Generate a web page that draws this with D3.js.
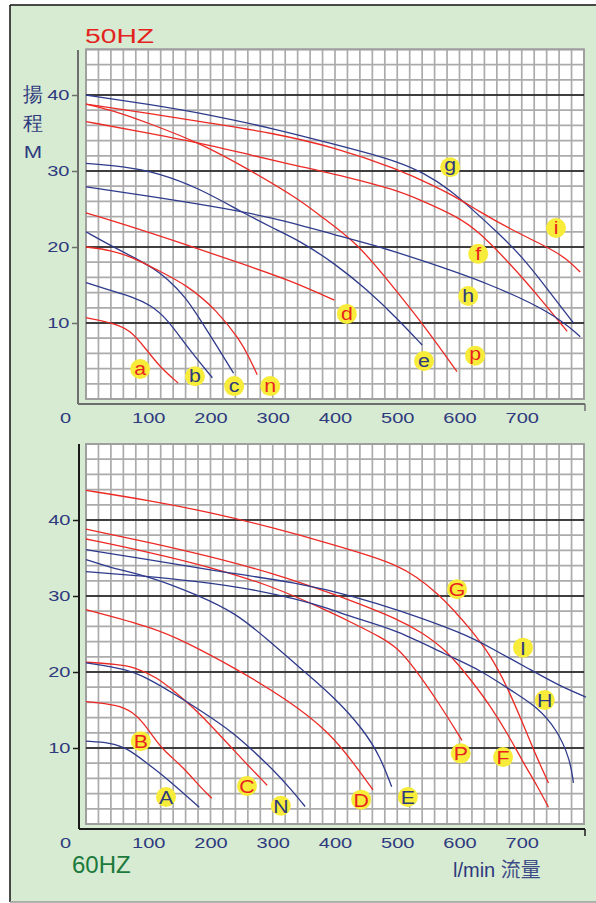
<!DOCTYPE html>
<html>
<head>
<meta charset="utf-8">
<script src="https://cdn.jsdelivr.net/npm/d3@7"></script>
<style>
  html, body { margin: 0; padding: 0; background: #fff; }
  svg { display: block; }
  text { font-family: "Liberation Sans", Arial, sans-serif; }
</style>
</head>
<body>
<svg id="chart" width="596" height="903"></svg>
<script>
// Axis ticks
const flowTicks = [0, 100, 200, 300, 400, 500, 600, 700];
const headTicks = [10, 20, 30, 40];

// 50 Hz performance curves: [flow l/min, head m]
const c50a = [[0,10.7],[44,10],[71,9.1],[98,6.4],[119,4.2],[148,2.1]];
const c50b = [[0,15.3],[39,14.3],[76,13.4],[103,12.4],[130,10.6],[162,6.9],[203,2.8]];
const c50c = [[0,22],[44,20],[80,18.5],[108,17.2],[130,15.9],[160,13.4],[183,10.5],[210,7],[237,3.4]];
const c50n = [[0,20],[40,19.6],[76,18.6],[114,17],[162,15],[210,11.7],[247,7.8],[262,5.5],[275,3.2]];
const c50d = [[0,24.5],[80,22.5],[172,20],[250,17.8],[328,15.6],[399,13]];
const c50e = [[0,31],[60,30.6],[114,29.8],[183,27.7],[250,24.6],[300,22.5],[344,20.8],[400,17.8],[450,14.5],[500,10.6],[540,7.1]];
const c50p = [[0,38.8],[50,37.8],[100,36.3],[183,33.7],[264,30.1],[344,26.2],[381,23.8],[436,20.5],[489,15.2],[542,9.8],[596,3.6]];
const c50f = [[0,36.5],[100,35],[200,33.4],[264,32.1],[344,30.6],[420,29.2],[494,27.6],[537,26.2],[596,24],[629,22.2],[686,17.4],[730,13.2],[773,8.9]];
const c50h = [[0,27.9],[100,26.7],[200,25.4],[300,23.9],[400,21.6],[477,19.9],[537,18.3],[645,15.3],[751,11.3],[794,8.2]];
const c50g = [[0,40],[100,38.8],[200,37.4],[300,35.6],[400,33.5],[460,32.2],[500,31.2],[542,29.8],[585,27.5],[620,25],[660,22],[700,18.8],[740,14.6],[783,10]];
const c50i = [[0,38.8],[100,37.6],[200,36.3],[300,35],[400,33.1],[500,30.3],[560,28],[600,26.3],[629,24.8],[680,22.4],[741,20],[770,18.6],[794,16.7]];

// 60 Hz performance curves: [flow l/min, head m]
const c60A = [[0,10.9],[39,10.7],[66,10],[98,8],[130,6],[182,2.2]];
const c60B = [[0,16.1],[50,15.7],[76,14.7],[92,13.3],[108,11.5],[124,9.7],[156,7.5],[183,4.9],[202,3.4]];
const c60C = [[0,21.3],[50,21],[76,20.7],[114,19.3],[140,17.6],[183,14.6],[237,9.7],[291,5.1]];
const c60N = [[0,21.2],[66,20.4],[103,19],[140,17.2],[183,15],[237,12],[270,9.5],[300,7.2],[330,4.5],[352,2.3]];
const c60D = [[0,28.2],[106,25.9],[159,24],[240,20.5],[325,16.3],[392,12],[430,8],[461,4.5]];
const c60E = [[0,34.8],[40,33.7],[106,32.5],[180,30.1],[240,27.8],[293,24.2],[347,20.3],[400,16.6],[446,12.4],[473,8.8],[491,4.9]];
const c60P = [[0,37.5],[100,35.8],[200,33.8],[300,31.3],[392,27.9],[432,26.3],[473,24.6],[500,23.2],[526,20.7],[564,16.3],[604,11]];
const c60F = [[0,38.8],[100,37.1],[200,35.2],[300,33],[392,30.4],[432,29.2],[500,27],[540,25.2],[580,22.8],[620,18.8],[650,15.5],[680,11.5],[703,8],[725,5],[743,2.2]];
const c60G = [[0,43.9],[100,42.6],[200,41],[300,39],[400,36.7],[460,35.2],[500,34],[530,32.6],[564,30.4],[590,28.2],[617,25.7],[650,22.2],[677,18],[703,13],[725,8.6],[743,5.4]];
const c60H = [[0,33.2],[60,32.8],[150,32.2],[250,31.2],[344,29.5],[392,28.3],[432,27.1],[500,25.5],[580,22.2],[633,20.3],[686,17.4],[725,15.4],[757,12.4],[778,8.4],[783,5.4]];
const c60I = [[0,36.1],[100,34.8],[200,33.4],[344,31.7],[432,29.9],[500,28.2],[606,25.1],[650,23.2],[714,20.3],[760,18.2],[803,16.7]];

// Model letters, motor family ("r" red / "b" blue) and where the letter tag sits [flow, head]
const models50 = ["a","b","c","n","d","e","p","f","h","g","i"];
const family50 = ["r","b","b","r","r","b","r","r","b","b","r"];
const points50 = [c50a,c50b,c50c,c50n,c50d,c50e,c50p,c50f,c50h,c50g,c50i];
const tagAt50  = [[87,3.95],[175,3.0],[238,1.7],[296,1.7],[419,11.2],[543,5.0],[625,5.7],[630,19.1],[614,13.55],[585,30.5],[755,22.5]];

const models60 = ["A","B","C","N","D","E","P","F","G","H","I"];
const family60 = ["b","r","r","b","r","b","r","r","r","b","b"];
const points60 = [c60A,c60B,c60C,c60N,c60D,c60E,c60P,c60F,c60G,c60H,c60I];
const tagAt60  = [[128.5,3.55],[88,10.9],[258.6,5.0],[313,2.4],[442,3.2],[517,3.55],[602,9.3],[670,8.8],[596,30.9],[737,16.3],[702,23.2]];

const COLORS = { r: "#ec2a25", b: "#2e3a8c" };
const NAVY = "#2e3a7e";

const svg = d3.select("#chart");

// Page background and frame
svg.append("rect").attr("x", 10).attr("y", 5).attr("width", 586).attr("height", 897).attr("fill", "#d7ead2");
svg.append("line").attr("x1", 10).attr("x2", 596).attr("y1", 5).attr("y2", 5).attr("stroke", "#111").attr("stroke-width", 1.5);
svg.append("line").attr("x1", 10).attr("x2", 10).attr("y1", 5).attr("y2", 902).attr("stroke", "#111").attr("stroke-width", 1.5);
svg.append("line").attr("x1", 10).attr("x2", 596).attr("y1", 902).attr("y2", 902).attr("stroke", "#9a9a9a").attr("stroke-width", 1.5);

const x = d3.scaleLinear().domain([0, 800]).range([86, 584]);

function drawPanel(cfg) {
  const { y, yMax, axisX, axisY, axisTop, axisColor, models, family, points, tags } = cfg;
  const g = svg.append("g");

  // white plotting panel
  g.append("rect")
    .attr("x", x(0)).attr("y", y(yMax))
    .attr("width", x(800) - x(0)).attr("height", y(0) - y(yMax))
    .attr("fill", "#fff");

  // fine grid
  const grid = g.append("g").attr("stroke", "#ababab").attr("stroke-width", 1.7);
  grid.selectAll(".v").data(d3.range(0, 801, 20)).join("line")
    .attr("x1", d => x(d)).attr("x2", d => x(d))
    .attr("y1", y(yMax)).attr("y2", y(0));
  grid.selectAll(".h").data(d3.range(0, yMax + 0.1, 2)).join("line")
    .attr("x1", x(0)).attr("x2", x(800))
    .attr("y1", d => y(d)).attr("y2", d => y(d));
  g.append("rect")
    .attr("x", x(0)).attr("y", y(yMax))
    .attr("width", x(800) - x(0)).attr("height", y(0) - y(yMax))
    .attr("fill", "none").attr("stroke", "#9f9f9f").attr("stroke-width", 2);

  // major head lines
  g.append("g").selectAll("line").data(headTicks).join("line")
    .attr("x1", x(0)).attr("x2", x(800))
    .attr("y1", d => y(d)).attr("y2", d => y(d))
    .attr("stroke", "#151515").attr("stroke-width", 1.4);

  // performance curves
  const line = d3.line().x(d => x(d[0])).y(d => y(d[1])).curve(d3.curveBasis);
  g.append("g").selectAll("path").data(points).join("path")
    .attr("d", d => line(d))
    .attr("fill", "none")
    .attr("stroke", (d, i) => COLORS[family[i]])
    .attr("stroke-width", 1.3);

  // model tags
  const tag = g.append("g").selectAll("g").data(models).join("g")
    .attr("transform", (d, i) => `translate(${x(tags[i][0])},${y(tags[i][1])})`);
  tag.append("circle").attr("r", 10).attr("fill", "#f7ec3a");
  tag.append("text")
    .attr("text-anchor", "middle")
    .attr("dy", d => (d === d.toUpperCase() ? "0.36em" : (/[gp]/.test(d) ? "0.22em" : "0.3em")))
    .attr("transform", "scale(1.12,1)")
    .attr("font-size", 19)
    .attr("fill", (d, i) => family[i] === "r" ? "#e8231d" : NAVY)
    .text(d => d);

  // axes
  const left = d3.axisLeft(y).tickValues(headTicks).tickSize(6).tickPadding(0);
  const ax = g.append("g").attr("transform", `translate(${axisX},0)`).call(left);
  ax.select(".domain").remove();
  ax.selectAll("line").attr("stroke", axisColor).attr("stroke-width", 1.5);
  ax.selectAll("text").attr("fill", NAVY).attr("font-size", 14.5)
    .attr("transform", "scale(1.38,1)").attr("x", -6.2);
  g.append("line").attr("x1", axisX).attr("x2", axisX).attr("y1", axisTop).attr("y2", axisY)
    .attr("stroke", axisColor).attr("stroke-width", 2);

  const bottom = d3.axisBottom(x).tickValues(flowTicks).tickSize(0).tickPadding(9);
  const bx = g.append("g").attr("transform", `translate(0,${axisY})`).call(bottom);
  bx.select(".domain").remove();
  bx.selectAll("text").attr("fill", NAVY).attr("font-size", 14.5)
    .attr("transform", d => d === 0 ? "translate(-21,0) scale(1.38,1)" : "scale(1.38,1)");
  g.append("line").attr("x1", axisX).attr("x2", x(800) + 1).attr("y1", axisY).attr("y2", axisY)
    .attr("stroke", axisColor).attr("stroke-width", 2);
  g.append("line").attr("x1", x(800) + 1).attr("x2", x(800) + 1).attr("y1", axisY).attr("y2", axisY + 7)
    .attr("stroke", axisColor).attr("stroke-width", 1.5);
  return g;
}

// 50 Hz chart
const y50 = d3.scaleLinear().domain([0, 46]).range([399, 49.4]);
drawPanel({ y: y50, yMax: 46, axisX: 78, axisY: 404, axisTop: 50, axisColor: "#6e6e6e",
  models: models50, family: family50, points: points50, tags: tagAt50 });

// 60 Hz chart
const y60 = d3.scaleLinear().domain([0, 50]).range([824, 444]);
drawPanel({ y: y60, yMax: 50, axisX: 79, axisY: 829, axisTop: 444, axisColor: "#1a1a1a",
  models: models60, family: family60, points: points60, tags: tagAt60 });

// Titles and axis captions
svg.append("text").attr("x", 85).attr("y", 43).attr("font-size", 20)
  .attr("textLength", 69).attr("lengthAdjust", "spacingAndGlyphs")
  .attr("fill", "#e3231d").text("50HZ");
svg.append("text").attr("x", 72).attr("y", 873).attr("font-size", 24)
  .attr("fill", "#1c7a3c").text("60HZ");

const cjk = '"Noto Sans CJK TC", "Noto Sans CJK SC", sans-serif';
svg.append("text").attr("x", 33).attr("y", 101).attr("text-anchor", "middle")
  .attr("font-size", 20).attr("font-family", cjk).attr("fill", NAVY).text("揚");
svg.append("text").attr("x", 33).attr("y", 130).attr("text-anchor", "middle")
  .attr("font-size", 20).attr("font-family", cjk).attr("fill", NAVY).text("程");
svg.append("text").attr("transform", "translate(33,158) scale(1.3,1)").attr("text-anchor", "middle")
  .attr("font-size", 17).attr("fill", NAVY).text("M");

const unit = svg.append("text").attr("x", 453).attr("y", 877).attr("font-size", 20).attr("fill", NAVY);
unit.append("tspan").text("l/min ");
unit.append("tspan").attr("font-family", cjk).attr("fill", "#3d4c86").text("流量");
</script>
</body>
</html>
